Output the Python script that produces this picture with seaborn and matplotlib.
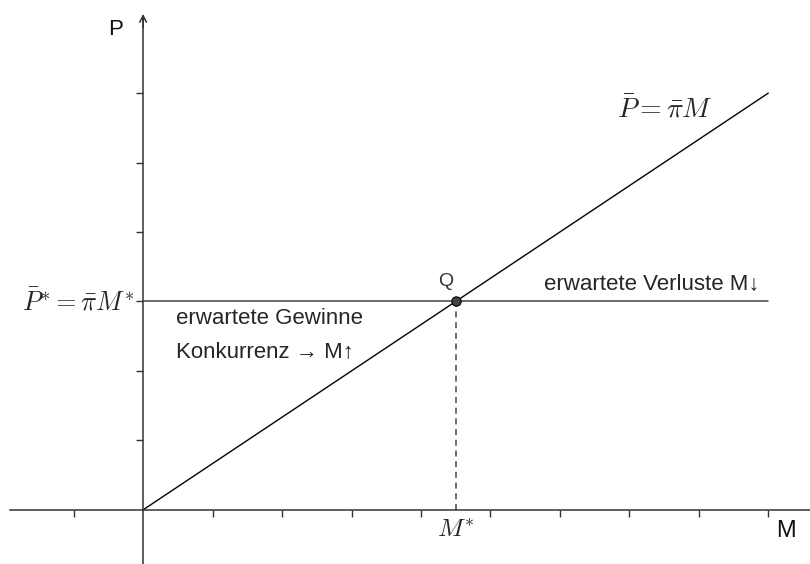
import matplotlib
matplotlib.use("Agg")
import matplotlib.pyplot as plt
import numpy as np
import pandas as pd
import seaborn as sns

sns.set_theme(style="white")
plt.rcParams["font.family"] = ["Liberation Sans", "DejaVu Sans"]
plt.rcParams["mathtext.fontset"] = "cm"

# Geraden und Gleichgewicht (Einheiten des Koordinatensystems)
m_line = [0, 9]
p_line = [0, 6]
m_star = 4.5
p_star = 3
m_horiz = [0, 9]
x_ticks = [-1, 1, 2, 3, 4, 5, 6, 7, 8, 9]
y_ticks = [1, 2, 3, 4, 5, 6]

df_line = pd.DataFrame({"M": m_line, "P": p_line})
df_horiz = pd.DataFrame({"M": m_horiz, "P": [p_star, p_star]})

fig = plt.figure(figsize=(8.1, 5.64), dpi=100)
ax = fig.add_axes([0, 0, 1, 1])
ax.set_xlim(-2.06, 9.6)
ax.set_ylim(-0.78, 7.34)

axis_col = "#333333"
for side in ["top", "right"]:
    ax.spines[side].set_visible(False)
ax.spines["left"].set_position(("data", 0))
ax.spines["bottom"].set_position(("data", 0))
ax.spines["left"].set_bounds(-0.78, 7.1)
ax.spines["bottom"].set_bounds(-1.92, 9.6)
for side in ["left", "bottom"]:
    ax.spines[side].set_color(axis_col)
    ax.spines[side].set_linewidth(1.1)
ax.set_xticks(x_ticks)
ax.set_yticks(y_ticks)
ax.tick_params(direction="out", length=5, width=1, color=axis_col,
               labelbottom=False, labelleft=False, bottom=True, left=True)
ax.annotate("", xy=(0, 7.18), xytext=(0, 6.9),
            arrowprops=dict(arrowstyle="->", color=axis_col, lw=1.1,
                            mutation_scale=12))
ax.annotate("", xy=(9.66, 0), xytext=(9.4, 0),
            arrowprops=dict(arrowstyle="->", color=axis_col, lw=1.1,
                            mutation_scale=12))

sns.lineplot(data=df_line, x="M", y="P", ax=ax, color="black", lw=1.0)
sns.lineplot(data=df_horiz, x="M", y="P", ax=ax, color="#444444", lw=1.1)
ax.plot([m_star, m_star], [0, p_star], color="#444444", lw=1.1,
        dashes=(4, 3))
ax.scatter([m_star], [p_star], s=45, color="#444444", edgecolor="black",
           linewidth=0.8, zorder=5)
ax.set_xlabel("")
ax.set_ylabel("")

ax.text(-0.4, 6.91, "P", fontsize=16, ha="center", va="center", color="#111111")
ax.text(9.25, -0.3, "M", fontsize=17, ha="center", va="center", color="#111111")
ax.text(m_star, -0.29, r"$M^{*}$", fontsize=18.5, ha="center", va="center")
ax.text(-0.12, p_star, r"$\bar{P}^{*}=\bar{\pi}M^{*}$", fontsize=19,
        ha="right", va="center")
ax.text(m_star - 0.15, p_star + 0.29, "Q", fontsize=14, ha="center",
        va="center", color="#333333")
ax.text(0.47, p_star - 0.24, "erwartete Gewinne", fontsize=16, ha="left",
        va="center")
ax.text(0.47, p_star - 0.73, "Konkurrenz \u2192 M\u2191", fontsize=16,
        ha="left", va="center")
ax.text(8.88, p_star + 0.24, "erwartete Verluste M\u2193", fontsize=16,
        ha="right", va="center")
ax.text(7.52, 5.76, r"$\bar{P}=\bar{\pi}M$", fontsize=20, ha="center",
        va="center")

fig.savefig("out.png", dpi=100)
